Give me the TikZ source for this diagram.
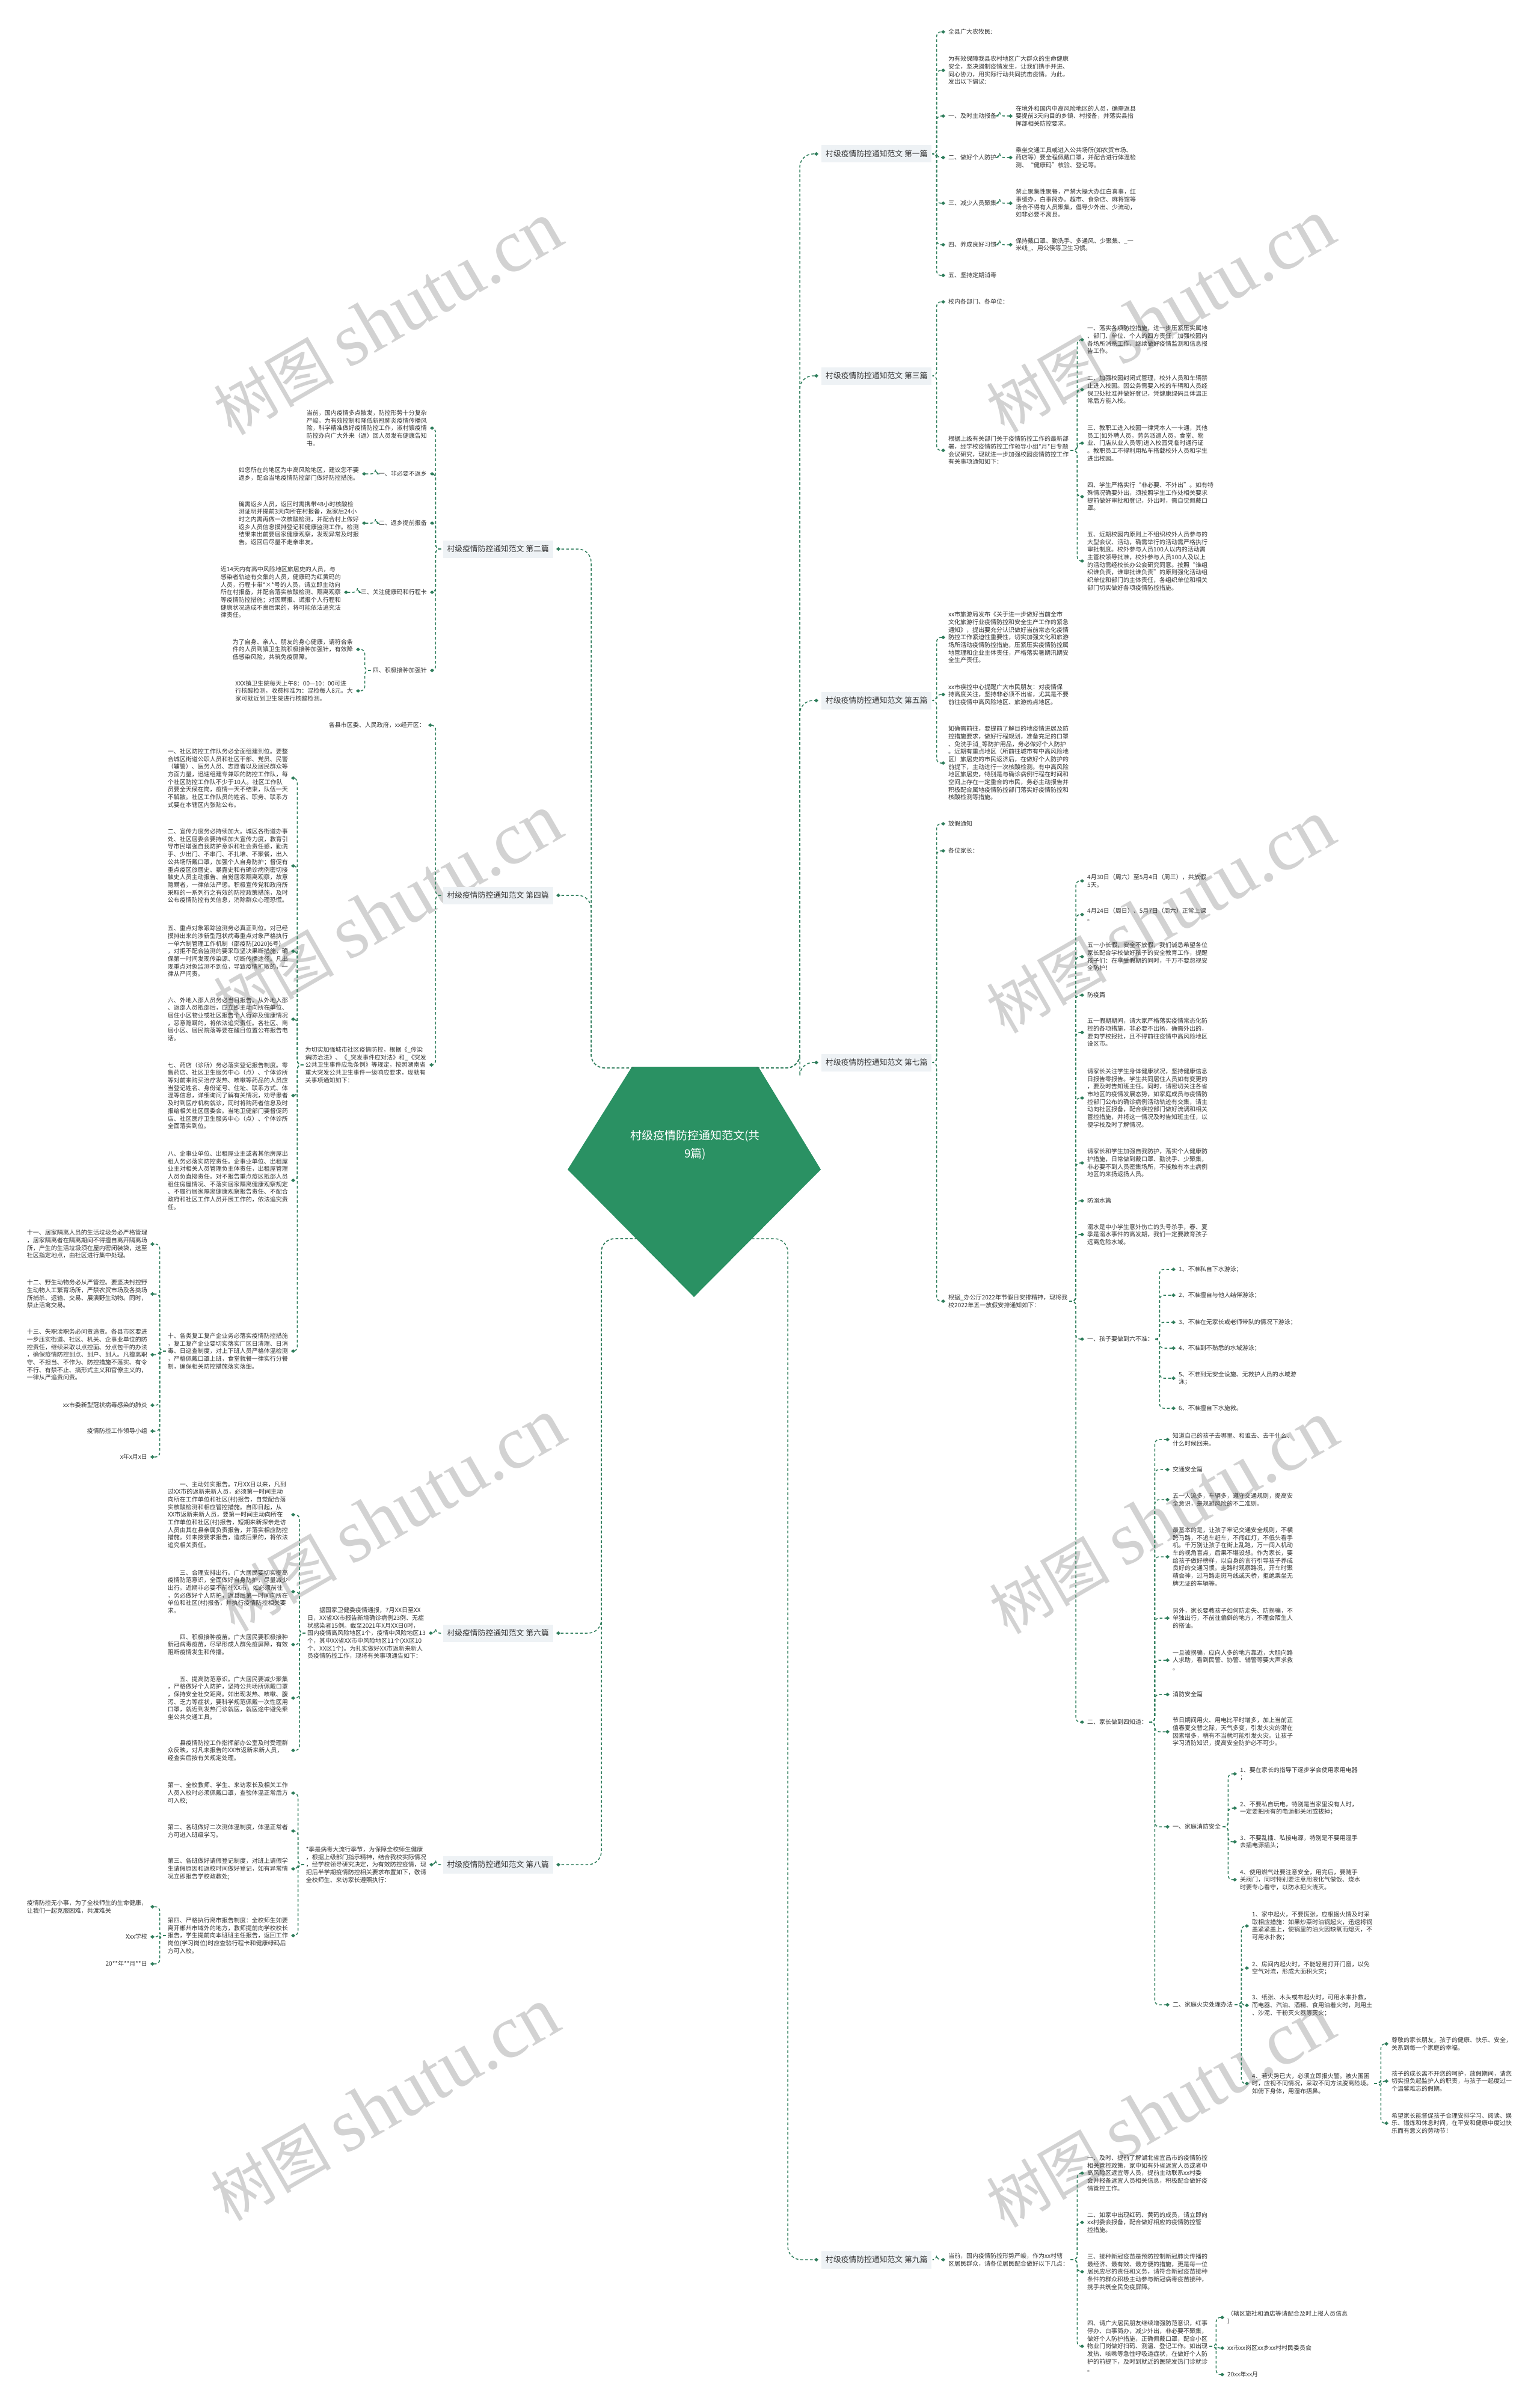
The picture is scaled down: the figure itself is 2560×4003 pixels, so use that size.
\documentclass[tikz,border=0pt]{standalone}
\usepackage{fontspec}
\newfontfamily\cjk{Noto Sans CJK SC}
\newfontfamily\wmserif{Liberation Serif}
\usetikzlibrary{arrows.meta,calc}
\definecolor{lc}{HTML}{2E7D5B}
\definecolor{txtc}{HTML}{333333}
\definecolor{topicbg}{HTML}{EEF2F5}
\definecolor{centerc}{HTML}{2A9163}
\definecolor{wmc}{HTML}{D2D2D2}
\newcommand\leaffont{\cjk\fontsize{10}{12.7}\selectfont}
\newcommand\topicfont{\cjk\fontsize{12.8}{15}\selectfont}
\newcommand\rc[3][12]{\draw[conn] ($(#2.east)+(3,0)$) -- ($(#2.east)+(#1,0)$) |- ($(#3.west)+(-5,0)$);}
\newcommand\lc[3][12]{\draw[conn] ($(#2.west)+(-3,0)$) -- ($(#2.west)+(-#1,0)$) |- ($(#3.east)+(5,0)$);}
\tikzset{
  lf/.style={font=\leaffont, text=txtc, align=left, inner sep=0pt, anchor=west},
  lfl/.style={lf, anchor=east},
  tp/.style={font=\topicfont, text=txtc, fill=topicbg, inner xsep=7pt, inner ysep=0pt, minimum height=29pt, anchor=west},
  tpl/.style={tp, anchor=east},
  conn/.style={draw=lc, line width=1.5pt, dash pattern=on 4.5pt off 3.5pt, rounded corners=7pt, -{Diamond[length=7pt,width=6pt]}},
  bigconn/.style={conn, rounded corners=22pt},
  wm/.style={text=wmc, rotate=30, inner sep=0pt}
}
\begin{document}
\begin{tikzpicture}[x=1pt,y=-1pt]
\fill[white] (0,0) rectangle (2560,4003);
\useasboundingbox (0,0) rectangle (2560,4003);

% watermarks
\foreach \i/\x/\y in {1/645/530, 2/1930/526, 3/645/1515, 4/1930/1525, 5/650/2520, 6/1935/2524, 7/640/3500, 8/1930/3511}{
  \node[wm] (wm\i) at (\x,\y) {\cjk\fontsize{100}{100}\selectfont 树图\hspace{24pt}\wmserif\fontsize{125}{125}\selectfont shutu.cn};
}

% centre
\fill[centerc] (1051,1774) -- (1261,1774) -- (1365,1945) -- (1154,2157) -- (944,1945) -- cycle;
\node[inner sep=0pt] (root) at (1154,1945) {};
\coordinate (rtr) at (1258,1776);
\coordinate (rtl) at (1054,1776);
\coordinate (rbr) at (1250,2060);
\coordinate (rbl) at (1060,2060);
\node[font=\cjk\fontsize{19}{30}\selectfont, text=white, align=center] (roottxt) at (1156,1904) {村级疫情防控通知范文(共\\9篇)};

% ================= 第一篇
\node[tp] (b1) at (1366,256) {村级疫情防控通知范文 第一篇};
\node[lf] (b1a) at (1577,53) {全县广大农牧民:};
\node[lf] (b1b) at (1577,117) {为有效保障我县农村地区广大群众的生命健康\\安全，坚决遏制疫情发生，让我们携手并进、\\同心协力，用实际行动共同抗击疫情。为此，\\发出以下倡议:};
\node[lf] (b1c) at (1577,193) {一、及时主动报备};
\node[lf] (b1c1) at (1689,193) {在境外和国内中高风险地区的人员，确需返县\\要提前3天向目的乡镇、村报备，并落实县指\\挥部相关防控要求。};
\node[lf] (b1d) at (1577,262) {二、做好个人防护};
\node[lf] (b1d1) at (1689,262) {乘坐交通工具或进入公共场所(如农贸市场、\\药店等）要全程佩戴口罩，并配合进行体温检\\测、“健康码”核验、登记等。};
\node[lf] (b1e) at (1577,338) {三、减少人员聚集};
\node[lf] (b1e1) at (1689,338) {禁止聚集性聚餐，严禁大操大办红白喜事，红\\事缓办，白事简办。超市、食杂店、麻将馆等\\场合不得有人员聚集，倡导少外出、少流动，\\如非必要不离县。};
\node[lf] (b1f) at (1577,407) {四、养成良好习惯};
\node[lf] (b1f1) at (1689,407) {保持戴口罩、勤洗手、多通风、少聚集、\_一\\米线\_、用公筷等卫生习惯。};
\node[lf] (b1g) at (1577,458) {五、坚持定期消毒};
\foreach \c in {b1a,b1b,b1c,b1d,b1e,b1f,b1g}{\rc[8]{b1}{\c}}
\foreach \c in {b1c,b1d,b1e,b1f}{\rc[5]{\c}{\c1}}

% ================= 第三篇
\node[tp] (b3) at (1366,625) {村级疫情防控通知范文 第三篇};
\node[lf] (b3a) at (1577,502) {校内各部门、各单位：};
\node[lf] (b3b) at (1577,749) {根据上级有关部门关于疫情防控工作的最新部\\署，经学校疫情防控工作领导小组*月*日专题\\会议研究，现就进一步加强校园疫情防控工作\\有关事项通知如下：};
\node[lf] (b3b1) at (1808,565) {一、落实各项防控措施，进一步压紧压实属地\\、部门、单位、个人的四方责任，加强校园内\\各场所消杀工作，继续做好疫情监测和信息报\\告工作。};
\node[lf] (b3b2) at (1808,648) {二、加强校园封闭式管理，校外人员和车辆禁\\止进入校园。因公务需要入校的车辆和人员经\\保卫处批准并做好登记，凭健康绿码且体温正\\常后方能入校。};
\node[lf] (b3b3) at (1808,737) {三、教职工进入校园一律凭本人一卡通，其他\\员工(如外聘人员，劳务派遣人员，食堂、物\\业、门店从业人员等)进入校园凭临时通行证\\。教职员工不得利用私车搭载校外人员和学生\\进出校园。};
\node[lf] (b3b4) at (1808,826) {四、学生严格实行“非必要、不外出”。如有特\\殊情况确要外出，须按照学生工作处相关要求\\提前做好审批和登记，外出时，需自觉佩戴口\\罩。};
\node[lf] (b3b5) at (1808,933) {五、近期校园内原则上不组织校外人员参与的\\大型会议、活动，确需举行的活动需严格执行\\审批制度。校外参与人员100人以内的活动需\\主管校领导批准，校外参与人员100人及以上\\的活动需经校长办公会研究同意。按照“谁组\\织谁负责，谁审批谁负责”的原则强化活动组\\织单位和部门的主体责任，各组织单位和相关\\部门切实做好各项疫情防控措施。};
\foreach \c in {b3a,b3b}{\rc[8]{b3}{\c}}
\foreach \c in {b3b1,b3b2,b3b3,b3b4,b3b5}{\rc[14]{b3b}{\c}}

% ================= 第五篇
\node[tp] (b5) at (1366,1165) {村级疫情防控通知范文 第五篇};
\node[lf] (b5a) at (1577,1060) {xx市旅游局发布《关于进一步做好当前全市\\文化旅游行业疫情防控和安全生产工作的紧急\\通知》，提出要充分认识做好当前常态化疫情\\防控工作紧迫性重要性，切实加强文化和旅游\\场所活动疫情防控措施，压紧压实疫情防控属\\地管理和企业主体责任，严格落实暑期汛期安\\全生产责任。};
\node[lf] (b5b) at (1577,1155) {xx市疾控中心提醒广大市民朋友：对疫情保\\持高度关注，坚持非必须不出省，尤其是不要\\前往疫情中高风险地区、旅游热点地区。};
\node[lf] (b5c) at (1577,1269) {如确需前往，要提前了解目的地疫情进展及防\\控措施要求，做好行程规划，准备充足的口罩\\、免洗手消\_等防护用品，务必做好个人防护\\。近期有重点地区（所前往城市有中高风险地\\区）旅居史的市民返济后，在做好个人防护的\\前提下，主动进行一次核酸检测。有中高风险\\地区旅居史，特别是与确诊病例行程在时间和\\空间上存在一定重合的市民，务必主动报告并\\积极配合属地疫情防控部门落实好疫情防控和\\核酸检测等措施。};
\foreach \c in {b5a,b5b,b5c}{\rc[8]{b5}{\c}}

% ================= 第七篇
\node[tp] (b7) at (1366,1767) {村级疫情防控通知范文 第七篇};
\node[lf] (b7a) at (1577,1370) {放假通知};
\node[lf] (b7b) at (1577,1415) {各位家长：};
\node[lf] (b7c) at (1577,2164) {根据\_办公厅2022年节假日安排精神，现将我\\校2022年五一放假安排通知如下：};
\foreach \c in {b7a,b7b,b7c}{\rc[8]{b7}{\c}}
\node[lf] (g1) at (1808,1465) {4月30日（周六）至5月4日（周三），共放假\\5天。};
\node[lf] (g2) at (1808,1521) {4月24日（周日）、5月7日（周六）正常上课\\。};
\node[lf] (g3) at (1808,1591) {五一小长假，安全不放假，我们诚恳希望各位\\家长配合学校做好孩子的安全教育工作，提醒\\孩子们：在享受假期的同时，千万不要忽视安\\全防护！};
\node[lf] (g4) at (1808,1655) {防疫篇};
\node[lf] (g5) at (1808,1717) {五一假期期间，请大家严格落实疫情常态化防\\控的各项措施，非必要不出扬，确需外出的，\\要向学校报批，且不得前往疫情中高风险地区\\设区市。};
\node[lf] (g6) at (1808,1826) {请家长关注学生身体健康状况，坚持健康信息\\日报告零报告。学生共同居住人员如有变更的\\，要及时告知班主任。同时，请密切关注各省\\市地区的疫情发展态势，如家庭成员与疫情防\\控部门公布的确诊病例活动轨迹有交集，请主\\动向社区报备，配合疾控部门做好流调和相关\\管控措施，并将这一情况及时告知班主任，以\\便学校及时了解情况。};
\node[lf] (g7) at (1808,1934) {请家长和学生加强自我防护，落实个人健康防\\护措施，日常做到戴口罩、勤洗手、少聚集，\\非必要不到人员密集场所，不接触有本土病例\\地区的来扬返扬人员。};
\node[lf] (g8) at (1808,1997) {防溺水篇};
\node[lf] (g9) at (1808,2053) {溺水是中小学生意外伤亡的头号杀手，春、夏\\季是溺水事件的高发期，我们一定要教育孩子\\远离危险水域。};
\node[lf] (g10) at (1808,2227) {一、孩子要做到六不准：};
\node[lf] (g11) at (1808,2864) {二、家长做到四知道：};
\foreach \c in {g1,g2,g3,g4,g5,g6,g7,g8,g9,g10,g11}{\rc[14]{b7c}{\c}}
\node[lf] (s1) at (1960,2111) {1、不准私自下水游泳；};
\node[lf] (s2) at (1960,2154) {2、不准擅自与他人结伴游泳；};
\node[lf] (s3) at (1960,2199) {3、不准在无家长或老师带队的情况下游泳；};
\node[lf] (s4) at (1960,2242) {4、不准到不熟悉的水域游泳；};
\node[lf] (s5) at (1960,2292) {5、不准到无安全设施、无救护人员的水域游\\泳；};
\node[lf] (s6) at (1960,2342) {6、不准擅自下水施救。};
\foreach \c in {s1,s2,s3,s4,s5,s6}{\rc[10]{g10}{\c}}
\node[lf] (k1) at (1950,2394) {知道自己的孩子去哪里、和谁去、去干什么、\\什么时候回来。};
\node[lf] (k2) at (1950,2444) {交通安全篇};
\node[lf] (k3) at (1950,2494) {五一人流多，车辆多，遵守交通规则，提高安\\全意识，是规避风险的不二准则。};
\node[lf] (k4) at (1950,2589) {最基本的是，让孩子牢记交通安全规则，不横\\跨马路，不追车赶车，不闯红灯，不低头看手\\机。千万别让孩子在街上乱跑，万一闯入机动\\车的视角盲点，后果不堪设想。作为家长，要\\给孩子做好榜样，以自身的言行引导孩子养成\\良好的交通习惯。走路时观察路况，开车时聚\\精会神，过马路走斑马线或天桥，拒绝乘坐无\\牌无证的车辆等。};
\node[lf] (k5) at (1950,2691) {另外，家长要教孩子如何防走失、防拐骗，不\\单独出行，不前往偏僻的地方，不理会陌生人\\的搭讪。};
\node[lf] (k6) at (1950,2761) {一旦被拐骗，应向人多的地方靠近，大胆向路\\人求助，看到民警、协警、辅警等要大声求救\\。};
\node[lf] (k7) at (1950,2818) {消防安全篇};
\node[lf] (k8) at (1950,2880) {节日期间用火、用电比平时增多，加上当前正\\值春夏交替之际，天气多变，引发火灾的潜在\\因素增多，稍有不当就可能引发火灾。让孩子\\学习消防知识，提高安全防护必不可少。};
\node[lf] (k9) at (1950,3038) {一、家庭消防安全};
\node[lf] (k10) at (1950,3334) {二、家庭火灾处理办法};
\foreach \c in {k1,k2,k3,k4,k5,k6,k7,k8,k9,k10}{\rc[12]{g11}{\c}}
\node[lf] (f1) at (2062,2950) {1、要在家长的指导下逐步学会使用家用电器\\；};
\node[lf] (f2) at (2062,3007) {2、不要私自玩电，特别是当家里没有人时，\\一定要把所有的电源都关闭或拔掉；};
\node[lf] (f3) at (2062,3063) {3、不要乱插、私接电源，特别是不要用湿手\\去插电源插头；};
\node[lf] (f4) at (2062,3126) {4、使用燃气灶要注意安全，用完后，要随手\\关阀门，同时特别要注意用液化气做饭、烧水\\时要专心看守，以防水把火浇灭。};
\foreach \c in {f1,f2,f3,f4}{\rc[12]{k9}{\c}}
\node[lf] (h1) at (2082,3203) {1、家中起火，不要慌张，应根据火情及时采\\取相应措施：如果炒菜时油锅起火，迅速将锅\\盖紧紧盖上，使锅里的油火因缺氧而熄灭，不\\可用水扑救；};
\node[lf] (h2) at (2082,3273) {2、房间内起火时，不能轻易打开门窗，以免\\空气对流，形成大面积火灾；};
\node[lf] (h3) at (2082,3335) {3、纸张、木头或布起火时，可用水来扑救，\\而电器、汽油、酒精、食用油着火时，则用土\\、沙泥、干粉灭火器等灭火；};
\node[lf] (h4) at (2082,3465) {4、若火势已大，必须立即报火警。被火围困\\时，应视不同情况，采取不同方法脱离险境。\\如俯下身体，用湿布捂鼻。};
\foreach \c in {h1,h2,h3,h4}{\rc[14]{k10}{\c}}
\node[lf] (m1) at (2314,3399) {尊敬的家长朋友，孩子的健康、快乐、安全，\\关系到每一个家庭的幸福。};
\node[lf] (m2) at (2314,3461) {孩子的成长离不开您的呵护，放假期间，请您\\切实担负起监护人的职责，与孩子一起度过一\\个温馨难忘的假期。};
\node[lf] (m3) at (2314,3531) {希望家长能督促孩子合理安排学习、阅读、娱\\乐、锻炼和休息时间，在平安和健康中度过快\\乐而有意义的劳动节！};
\foreach \c in {m1,m2,m3}{\rc[14]{h4}{\c}}

% ================= 第九篇
\node[tp] (b9) at (1366,3758) {村级疫情防控通知范文 第九篇};
\node[lf] (b9a) at (1577,3758) {当前，国内疫情防控形势严峻，作为xx村辖\\区居民群众，请各位居民配合做好以下几点：};
\rc[8]{b9}{b9a}
\node[lf] (n1) at (1808,3614) {一、及时、提前了解湖北省宜昌市的疫情防控\\相关管控政策，家中如有外省返宜人员或者中\\高风险区返宜等人员，提前主动联系xx村委\\会并报备返宜人员相关信息，积极配合做好疫\\情管控工作。};
\node[lf] (n2) at (1808,3696) {二、如家中出现红码、黄码的成员，请立即向\\xx村委会报备，配合做好相应的疫情防控管\\控措施。};
\node[lf] (n3) at (1808,3778) {三、接种新冠疫苗是预防控制新冠肺炎传播的\\最经济、最有效、最方便的措施，更是每一位\\居民应尽的责任和义务，请符合新冠疫苗接种\\条件的群众积极主动参与新冠病毒疫苗接种，\\携手共筑全民免疫屏障。};
\node[lf] (n4) at (1808,3902) {四、请广大居民朋友继续增强防范意识，红事\\停办、白事简办，减少外出，非必要不聚集，\\做好个人防护措施，正确佩戴口罩，配合小区\\物业门岗做好扫码、测温、登记工作。如出现\\发热、咳嗽等急性呼吸道症状，在做好个人防\\护的前提下，及时到就近的医院发热门诊就诊\\。};
\foreach \c in {n1,n2,n3,n4}{\rc[14]{b9a}{\c}}
\node[lf] (p1) at (2041,3854) {（辖区旅社和酒店等请配合及时上报人员信息\\）};
\node[lf] (p2) at (2041,3905) {xx市xx岗区xx乡xx村村民委员会};
\node[lf] (p3) at (2041,3949) {20xx年xx月};
\foreach \c in {p1,p2,p3}{\rc[14]{n4}{\c}}

% ================= 第二篇
\node[tpl] (b2) at (920,913) {村级疫情防控通知范文 第二篇};
\node[lfl] (b2a) at (710,712) {当前，国内疫情多点散发，防控形势十分复杂\\严峻。为有效控制和降低新冠肺炎疫情传播风\\险，科学精准做好疫情防控工作，淑村镇疫情\\防控办向广大外来（返）回人员发布健康告知\\书。};
\node[lfl] (b2b) at (710,788) {一、非必要不返乡};
\node[lfl] (b2b1) at (597,788) {如您所在的地区为中高风险地区，建议您不要\\返乡，配合当地疫情防控部门做好防控措施。};
\node[lfl] (b2c) at (710,870) {二、返乡提前报备};
\node[lfl] (b2c1) at (597,870) {确需返乡人员，返回时需携带48小时核酸检\\测证明并提前3天向所在村报备，返家后24小\\时之内需再做一次核酸检测，并配合村上做好\\返乡人员信息摸排登记和健康监测工作。检测\\结果未出前要居家健康观察，发现异常及时报\\告。返回后尽量不走亲串友。};
\node[lfl] (b2d) at (710,985) {三、关注健康码和行程卡};
\node[lfl] (b2d1) at (567,985) {近14天内有高中风险地区旅居史的人员，与\\感染者轨迹有交集的人员，健康码为红黄码的\\人员，行程卡带*×*号的人员，请立即主动向\\所在村报备，并配合落实核酸检测、隔离观察\\等疫情防控措施；对因瞒报、谎报个人行程和\\健康状况造成不良后果的，将可能依法追究法\\律责任。};
\node[lfl] (b2e) at (710,1115) {四、积极接种加强针};
\node[lfl] (b2e1) at (587,1080) {为了自身、亲人、朋友的身心健康，请符合条\\件的人员到镇卫生院积极接种加强针，有效降\\低感染风险，共筑免疫屏障。};
\node[lfl] (b2e2) at (587,1149) {XXX镇卫生院每天上午8：00—10：00可进\\行核酸检测，收费标准为：混检每人8元。大\\家可就近到卫生院进行核酸检测。};
\foreach \c in {b2a,b2b,b2c,b2d,b2e}{\lc[12]{b2}{\c}}
\foreach \c in {b2b,b2c,b2d}{\lc[5]{\c}{\c1}}
\foreach \c in {b2e1,b2e2}{\lc[13]{b2e}{\c}}

% ================= 第四篇
\node[tpl] (b4) at (920,1489) {村级疫情防控通知范文 第四篇};
\node[lfl] (b4a) at (707,1206) {各县市区委、人民政府，xx经开区：};
\node[lfl] (b4b) at (709,1771) {为切实加强城市社区疫情防控，根据《\_传染\\病防治法》、《\_突发事件应对法》和\_《突发\\公共卫生事件应急条例》等规定，按照湖南省\\重大突发公共卫生事件一级响应要求，现就有\\关事项通知如下：};
\foreach \c in {b4a,b4b}{\lc[12]{b4}{\c}}
\node[lfl] (q1) at (479,1294) {一、社区防控工作队务必全面组建到位。要整\\合城区街道公职人员和社区干部、党员、民警\\（辅警）、医务人员、志愿者以及居民群众等\\方面力量，迅速组建专兼职的防控工作队，每\\个社区防控工作队不少于10人。社区工作队\\员要全天候在岗，疫情一天不结束，队伍一天\\不解散。社区工作队员的姓名、职务、联系方\\式要在本辖区内张贴公布。};
\node[lfl] (q2) at (479,1440) {二、宣传力度务必持续加大。城区各街道办事\\处、社区居委会要持续加大宣传力度，教育引\\导市民增强自我防护意识和社会责任感，勤洗\\手、少出门、不串门、不扎堆、不聚餐，出入\\公共场所戴口罩，加强个人自身防护；督促有\\重点疫区旅居史、暴露史和有确诊病例密切接\\触史人员主动报告、自觉居家隔离观察，故意\\隐瞒者，一律依法严惩。积极宣传党和政府所\\采取的一系列行之有效的防控政策措施，及时\\公布疫情防控有关信息，消除群众心理恐慌。};
\node[lfl] (q3) at (479,1582) {五、重点对象跟踪监测务必真正到位。对已经\\摸排出来的涉新型冠状病毒重点对象严格执行\\一单六制管理工作机制（邵疫防{[2020]}6号）\\，对拒不配合监测的要采取坚决果断措施，确\\保第一时间发现传染源、切断传播途径。凡出\\现重点对象监测不到位，导致疫情扩散的，一\\律从严问责。};
\node[lfl] (q4) at (479,1695) {六、外地入邵人员务必当日报告。从外地入邵\\、返邵人员抵邵后，应立即主动向所在单位、\\居住小区物业或社区报告个人行踪及健康情况\\，恶意隐瞒的，将依法追究责任。各社区、商\\居小区、居民院落等要在醒目位置公布报告电\\话。};
\node[lfl] (q5) at (479,1822) {七、药店（诊所）务必落实登记报告制度。零\\售药店、社区卫生服务中心（点）、个体诊所\\等对前来购买治疗发热、咳嗽等药品的人员应\\当登记姓名、身份证号、住址、联系方式、体\\温等信息，详细询问了解有关情况，劝导患者\\及时到医疗机构就诊，同时将购药者信息及时\\报给相关社区居委会。当地卫健部门要督促药\\店、社区医疗卫生服务中心（点）、个体诊所\\全面落实到位。};
\node[lfl] (q6) at (479,1963) {八、企事业单位、出租屋业主或者其他房屋出\\租人务必落实防控责任。企事业单位、出租屋\\业主对相关人员管理负主体责任，出租屋管理\\人员负直接责任。对不报告重点疫区抵邵人员\\租住房屋情况、不落实居家隔离健康观察规定\\、不履行居家隔离健康观察报告责任、不配合\\政府和社区工作人员开展工作的，依法追究责\\任。};
\node[lfl] (q7) at (479,2247) {十、各类复工复产企业务必落实疫情防控措施\\，复工复产企业要切实落实厂区日清理、日消\\毒、日巡查制度，对上下班人员严格体温检测\\，严格佩戴口罩上班，食堂就餐一律实行分餐\\制，确保相关防控措施落实落细。};
\foreach \c in {q1,q2,q3,q4,q5,q6,q7}{\lc[13]{b4b}{\c}}
\node[lfl] (r1) at (245,2069) {十一、居家隔离人员的生活垃圾务必严格管理\\，居家隔离者在隔离期间不得擅自离开隔离场\\所，产生的生活垃圾须在屋内密闭装袋，送至\\社区指定地点，由社区进行集中处理。};
\node[lfl] (r2) at (245,2152) {十二、野生动物务必从严管控。要坚决封控野\\生动物人工繁育场所，严禁农贸市场及各类场\\所捕杀、运输、交易、展演野生动物。同时，\\禁止活禽交易。};
\node[lfl] (r3) at (245,2253) {十三、失职渎职务必问责追责。各县市区要进\\一步压实街道、社区、机关、企事业单位的防\\控责任，继续采取以点控面、分点包干的办法\\，确保疫情防控到点、到户、到人。凡擅离职\\守、不担当、不作为、防控措施不落实、有令\\不行、有禁不止、搞形式主义和官僚主义的，\\一律从严追责问责。};
\node[lfl] (r4) at (245,2337) {xx市委新型冠状病毒感染的肺炎};
\node[lfl] (r5) at (245,2380) {疫情防控工作领导小组};
\node[lfl] (r6) at (245,2423) {x年x月x日};
\foreach \c in {r1,r2,r3,r4,r5,r6}{\lc[13]{q7}{\c}}

% ================= 第六篇
\node[tpl] (b6) at (920,2716) {村级疫情防控通知范文 第六篇};
\node[lfl] (b6a) at (708,2716) {　　据国家卫健委疫情通报，7月XX日至XX\\日，XX省XX市报告新增确诊病例23例、无症\\状感染者15例。截至2021年X月XX日0时，\\国内疫情高风险地区1个，疫情中风险地区13\\个，其中XX省XX市中风险地区11个(XX区10\\个、XX区1个)。为扎实做好XX市返新来新人\\员疫情防控工作，现将有关事项通告如下：};
\lc[12]{b6}{b6a}
\node[lfl] (t1) at (479,2519) {　　一、主动如实报告。7月XX日以来，凡到\\过XX市的返新来新人员，必须第一时间主动\\向所在工作单位和社区(村)报告，自觉配合落\\实核酸检测和相应管控措施。自即日起，从\\XX市返新来新人员，要第一时间主动向所在\\工作单位和社区(村)报告，短期来新探亲走访\\人员由其在县亲属负责报告，并落实相应防控\\措施。如未按要求报告，造成后果的，将依法\\追究相关责任。};
\node[lfl] (t2) at (479,2647) {　　三、合理安排出行。广大居民要切实提高\\疫情防范意识，全面做好自身防护，尽量减少\\出行。近期非必要不前往XX市，如必须前往\\，务必做好个人防护，返县后第一时间向所在\\单位和社区(村)报备，并执行疫情防控相关要\\求。};
\node[lfl] (t3) at (479,2735) {　　四、积极接种疫苗。广大居民要积极接种\\新冠病毒疫苗，尽早形成人群免疫屏障，有效\\阻断疫情发生和传播。};
\node[lfl] (t4) at (479,2824) {　　五、提高防范意识。广大居民要减少聚集\\，严格做好个人防护，坚持公共场所佩戴口罩\\，保持安全社交距离。如出现发热、咳嗽、腹\\泻、乏力等症状，要科学规范佩戴一次性医用\\口罩，就近到发热门诊就医，就医途中避免乘\\坐公共交通工具。};
\node[lfl] (t5) at (479,2911) {　　县疫情防控工作指挥部办公室及时受理群\\众反映，对凡未报告的XX市返新来新人员，\\经查实后按有关规定处理。};
\foreach \c in {t1,t2,t3,t4,t5}{\lc[13]{b6a}{\c}}

% ================= 第八篇
\node[tpl] (b8) at (920,3101) {村级疫情防控通知范文 第八篇};
\node[lfl] (b8a) at (709,3101) {*季是病毒大流行季节，为保障全校师生健康\\，根据上级部门指示精神，结合我校实际情况\\，经学校领导研究决定，为有效防控疫情，现\\把后半学期疫情防控相关要求布置如下，敬请\\全校师生、来访家长遵照执行：};
\lc[12]{b8}{b8a}
\node[lfl] (u1) at (479,2982) {第一、全校教师、学生、来访家长及相关工作\\人员入校时必须佩戴口罩，查验体温正常后方\\可入校;};
\node[lfl] (u2) at (479,3045) {第二、各班做好二次测体温制度，体温正常者\\方可进入班级学习。};
\node[lfl] (u3) at (479,3108) {第三、各班做好请假登记制度，对班上请假学\\生请假原因和返校时间做好登记，如有异常情\\况立即报告学校政教处;};
\node[lfl] (u4) at (479,3219) {第四、严格执行离市报告制度：全校师生如要\\离开郴州市域外的地方，教师提前向学校校长\\报告，学生提前向本班班主任报告，返回工作\\岗位(学习岗位)时应查验行程卡和健康绿码后\\方可入校。};
\foreach \c in {u1,u2,u3,u4}{\lc[13]{b8a}{\c}}
\node[lfl] (v1) at (245,3171) {疫情防控无小事，为了全校师生的生命健康，\\让我们一起克服困难，共渡难关};
\node[lfl] (v2) at (245,3221) {Xxx学校};
\node[lfl] (v3) at (245,3266) {20**年**月**日};
\foreach \c in {v1,v2,v3}{\lc[13]{u4}{\c}}

% ================= centre to topics
\foreach \t in {b1,b3,b5,b7}{\draw[bigconn] (rtr) -| ($(\t.west)+(-36,0)$) -- ($(\t.west)+(-5,0)$);}
\draw[bigconn] (rbr) -| ($(b9.west)+(-56,0)$) -- ($(b9.west)+(-5,0)$);
\foreach \t in {b2,b4}{\draw[bigconn] (rtl) -| ($(\t.east)+(63,0)$) -- ($(\t.east)+(5,0)$);}
\foreach \t in {b6,b8}{\draw[bigconn] (rbl) -| ($(\t.east)+(80,0)$) -- ($(\t.east)+(5,0)$);}
\end{tikzpicture}
\end{document}
